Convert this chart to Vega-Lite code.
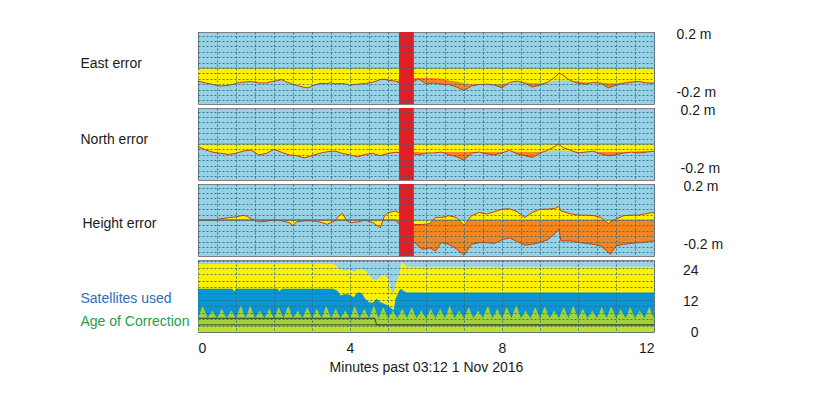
{
  "$schema": "https://vega.github.io/schema/vega-lite/v6.json",
  "background": "white",
  "padding": {"left": 79, "top": 27, "right": 5, "bottom": 5},
  "config": {
    "view": {"stroke": "#7f7f7f", "fill": "#98d2e6"},
    "font": "Liberation Sans",
    "axis": {"ticks": false, "domain": false, "gridColor": "#2b6a80", "gridDash": [2, 2], "gridOpacity": 0.85, "gridWidth": 1,
      "labelFont": "Liberation Sans", "labelFontSize": 14, "labelColor": "#1a1a1a",
      "titleFont": "Liberation Sans", "titleFontSize": 14, "titleFontWeight": "normal", "titleColor": "#1a1a1a"}
  },
  "datasets": {
    "err": [
      {"p":"E","t":0,"a":-0.073,"b":-0.073},{"p":"E","t":0.2,"a":-0.083,"b":-0.083},{"p":"E","t":0.4,"a":-0.092,"b":-0.092},{"p":"E","t":0.5,"a":-0.098,"b":-0.098},
      {"p":"E","t":0.6,"a":-0.1,"b":-0.1},{"p":"E","t":0.8,"a":-0.097,"b":-0.097},{"p":"E","t":1.0,"a":-0.086,"b":-0.086},{"p":"E","t":1.1,"a":-0.08,"b":-0.08},
      {"p":"E","t":1.2,"a":-0.079,"b":-0.079},{"p":"E","t":1.4,"a":-0.075,"b":-0.075},{"p":"E","t":1.6,"a":-0.083,"b":-0.083},{"p":"E","t":1.8,"a":-0.083,"b":-0.083},
      {"p":"E","t":2.0,"a":-0.073,"b":-0.073},{"p":"E","t":2.1,"a":-0.07,"b":-0.07},{"p":"E","t":2.2,"a":-0.064,"b":-0.064},{"p":"E","t":2.3,"a":-0.075,"b":-0.075},
      {"p":"E","t":2.4,"a":-0.083,"b":-0.083},{"p":"E","t":2.6,"a":-0.097,"b":-0.097},{"p":"E","t":2.8,"a":-0.108,"b":-0.108},{"p":"E","t":2.9,"a":-0.11,"b":-0.11},
      {"p":"E","t":3.0,"a":-0.1,"b":-0.1},{"p":"E","t":3.2,"a":-0.086,"b":-0.086},{"p":"E","t":3.4,"a":-0.086,"b":-0.086},{"p":"E","t":3.5,"a":-0.082,"b":-0.082},
      {"p":"E","t":3.6,"a":-0.088,"b":-0.088},{"p":"E","t":3.8,"a":-0.086,"b":-0.086},{"p":"E","t":3.9,"a":-0.09,"b":-0.09},{"p":"E","t":4.0,"a":-0.097,"b":-0.097},
      {"p":"E","t":4.1,"a":-0.092,"b":-0.092},{"p":"E","t":4.2,"a":-0.09,"b":-0.09},{"p":"E","t":4.4,"a":-0.086,"b":-0.086},{"p":"E","t":4.6,"a":-0.079,"b":-0.079},
      {"p":"E","t":4.7,"a":-0.072,"b":-0.072},{"p":"E","t":4.8,"a":-0.064,"b":-0.064},{"p":"E","t":4.9,"a":-0.062,"b":-0.062},{"p":"E","t":5.0,"a":-0.068,"b":-0.068},
      {"p":"E","t":5.2,"a":-0.073,"b":-0.073},{"p":"E","t":5.4,"a":-0.06,"b":-0.09},{"p":"E","t":5.6,"a":-0.055,"b":-0.09},{"p":"E","t":5.8,"a":-0.055,"b":-0.06},
      {"p":"E","t":6.0,"a":-0.055,"b":-0.088},{"p":"E","t":6.2,"a":-0.055,"b":-0.083},{"p":"E","t":6.4,"a":-0.06,"b":-0.09},{"p":"E","t":6.6,"a":-0.07,"b":-0.092},
      {"p":"E","t":6.8,"a":-0.075,"b":-0.105},{"p":"E","t":7.0,"a":-0.085,"b":-0.125},{"p":"E","t":7.2,"a":-0.09,"b":-0.1},{"p":"E","t":7.4,"a":-0.09,"b":-0.092},
      {"p":"E","t":7.6,"a":-0.09,"b":-0.09},{"p":"E","t":7.8,"a":-0.09,"b":-0.095},{"p":"E","t":8.0,"a":-0.09,"b":-0.11},{"p":"E","t":8.2,"a":-0.08,"b":-0.08},
      {"p":"E","t":8.4,"a":-0.075,"b":-0.073},{"p":"E","t":8.6,"a":-0.08,"b":-0.085},{"p":"E","t":8.8,"a":-0.085,"b":-0.105},{"p":"E","t":9.0,"a":-0.085,"b":-0.095},
      {"p":"E","t":9.2,"a":-0.08,"b":-0.08},{"p":"E","t":9.4,"a":-0.07,"b":-0.05},{"p":"E","t":9.5,"a":-0.07,"b":-0.027},{"p":"E","t":9.6,"a":-0.07,"b":-0.04},
      {"p":"E","t":9.8,"a":-0.07,"b":-0.07},{"p":"E","t":10.0,"a":-0.075,"b":-0.085},{"p":"E","t":10.2,"a":-0.08,"b":-0.09},{"p":"E","t":10.4,"a":-0.08,"b":-0.08},
      {"p":"E","t":10.6,"a":-0.08,"b":-0.085},{"p":"E","t":10.8,"a":-0.085,"b":-0.11},{"p":"E","t":11.0,"a":-0.085,"b":-0.095},{"p":"E","t":11.2,"a":-0.08,"b":-0.085},
      {"p":"E","t":11.4,"a":-0.075,"b":-0.079},{"p":"E","t":11.6,"a":-0.075,"b":-0.075},{"p":"E","t":11.8,"a":-0.08,"b":-0.083},{"p":"E","t":12.0,"a":-0.08,"b":-0.085},

      {"p":"N","t":0,"a":-0.014,"b":-0.014},{"p":"N","t":0.2,"a":-0.033,"b":-0.033},{"p":"N","t":0.4,"a":-0.046,"b":-0.046},{"p":"N","t":0.6,"a":-0.052,"b":-0.052},
      {"p":"N","t":0.8,"a":-0.058,"b":-0.058},{"p":"N","t":1.0,"a":-0.052,"b":-0.052},{"p":"N","t":1.2,"a":-0.039,"b":-0.039},{"p":"N","t":1.4,"a":-0.033,"b":-0.033},
      {"p":"N","t":1.6,"a":-0.061,"b":-0.061},{"p":"N","t":1.8,"a":-0.052,"b":-0.052},{"p":"N","t":2.0,"a":-0.03,"b":-0.03},{"p":"N","t":2.2,"a":-0.046,"b":-0.046},
      {"p":"N","t":2.4,"a":-0.061,"b":-0.061},{"p":"N","t":2.6,"a":-0.065,"b":-0.065},{"p":"N","t":2.8,"a":-0.077,"b":-0.077},{"p":"N","t":3.0,"a":-0.065,"b":-0.065},
      {"p":"N","t":3.2,"a":-0.052,"b":-0.052},{"p":"N","t":3.4,"a":-0.043,"b":-0.043},{"p":"N","t":3.6,"a":-0.039,"b":-0.039},{"p":"N","t":3.8,"a":-0.052,"b":-0.052},
      {"p":"N","t":4.0,"a":-0.061,"b":-0.061},{"p":"N","t":4.2,"a":-0.071,"b":-0.071},{"p":"N","t":4.4,"a":-0.058,"b":-0.058},{"p":"N","t":4.6,"a":-0.052,"b":-0.052},
      {"p":"N","t":4.8,"a":-0.065,"b":-0.065},{"p":"N","t":5.0,"a":-0.052,"b":-0.052},{"p":"N","t":5.2,"a":-0.046,"b":-0.046},{"p":"N","t":5.4,"a":-0.045,"b":-0.05},
      {"p":"N","t":5.6,"a":-0.045,"b":-0.05},{"p":"N","t":5.8,"a":-0.045,"b":-0.06},{"p":"N","t":6.0,"a":-0.05,"b":-0.05},{"p":"N","t":6.2,"a":-0.05,"b":-0.05},
      {"p":"N","t":6.4,"a":-0.045,"b":-0.045},{"p":"N","t":6.6,"a":-0.045,"b":-0.06},{"p":"N","t":6.8,"a":-0.045,"b":-0.07},{"p":"N","t":7.0,"a":-0.045,"b":-0.09},
      {"p":"N","t":7.2,"a":-0.045,"b":-0.05},{"p":"N","t":7.4,"a":-0.045,"b":-0.045},{"p":"N","t":7.6,"a":-0.045,"b":-0.055},{"p":"N","t":7.8,"a":-0.045,"b":-0.06},
      {"p":"N","t":8.0,"a":-0.045,"b":-0.05},{"p":"N","t":8.2,"a":-0.04,"b":-0.035},{"p":"N","t":8.4,"a":-0.045,"b":-0.055},{"p":"N","t":8.6,"a":-0.045,"b":-0.065},
      {"p":"N","t":8.8,"a":-0.045,"b":-0.075},{"p":"N","t":9.0,"a":-0.045,"b":-0.05},{"p":"N","t":9.2,"a":-0.04,"b":-0.035},{"p":"N","t":9.4,"a":-0.035,"b":-0.012},
      {"p":"N","t":9.5,"a":-0.035,"b":0.003},{"p":"N","t":9.6,"a":-0.035,"b":-0.02},{"p":"N","t":9.8,"a":-0.04,"b":-0.035},{"p":"N","t":10.0,"a":-0.045,"b":-0.05},
      {"p":"N","t":10.2,"a":-0.045,"b":-0.045},{"p":"N","t":10.4,"a":-0.045,"b":-0.04},{"p":"N","t":10.6,"a":-0.045,"b":-0.055},{"p":"N","t":10.8,"a":-0.045,"b":-0.065},
      {"p":"N","t":11.0,"a":-0.045,"b":-0.06},{"p":"N","t":11.2,"a":-0.045,"b":-0.05},{"p":"N","t":11.4,"a":-0.045,"b":-0.045},{"p":"N","t":11.6,"a":-0.04,"b":-0.05},
      {"p":"N","t":11.8,"a":-0.04,"b":-0.045},{"p":"N","t":12.0,"a":-0.04,"b":-0.04},

      {"p":"H","t":0,"a":0,"b":0},{"p":"H","t":0.2,"a":0,"b":0},{"p":"H","t":0.4,"a":-0.002,"b":0},{"p":"H","t":0.6,"a":0.007,"b":0},
      {"p":"H","t":0.8,"a":0.013,"b":0},{"p":"H","t":1.0,"a":0.017,"b":0},{"p":"H","t":1.1,"a":0.022,"b":0},{"p":"H","t":1.2,"a":0.026,"b":0},
      {"p":"H","t":1.3,"a":0.02,"b":0},{"p":"H","t":1.4,"a":0.007,"b":0},{"p":"H","t":1.6,"a":-0.011,"b":0},{"p":"H","t":1.8,"a":-0.007,"b":0},
      {"p":"H","t":2.0,"a":0,"b":0},{"p":"H","t":2.2,"a":-0.004,"b":0},{"p":"H","t":2.4,"a":-0.015,"b":0},{"p":"H","t":2.5,"a":-0.03,"b":0},
      {"p":"H","t":2.6,"a":-0.01,"b":0},{"p":"H","t":2.8,"a":-0.005,"b":0},{"p":"H","t":3.0,"a":-0.004,"b":0},{"p":"H","t":3.2,"a":-0.011,"b":0},
      {"p":"H","t":3.4,"a":-0.024,"b":0},{"p":"H","t":3.6,"a":-0.005,"b":0},{"p":"H","t":3.7,"a":0.02,"b":0},{"p":"H","t":3.8,"a":0.038,"b":0},
      {"p":"H","t":3.9,"a":0,"b":0},{"p":"H","t":4.0,"a":-0.015,"b":0},{"p":"H","t":4.2,"a":-0.011,"b":0},{"p":"H","t":4.4,"a":0,"b":0},
      {"p":"H","t":4.6,"a":-0.015,"b":0},{"p":"H","t":4.8,"a":-0.043,"b":0},{"p":"H","t":4.9,"a":0.02,"b":0},{"p":"H","t":5.0,"a":0.041,"b":0},
      {"p":"H","t":5.2,"a":0.05,"b":0},{"p":"H","t":5.4,"a":0.03,"b":-0.05},{"p":"H","t":5.6,"a":-0.02,"b":-0.1},{"p":"H","t":5.7,"a":-0.025,"b":-0.126},
      {"p":"H","t":5.9,"a":-0.025,"b":-0.163},{"p":"H","t":6.1,"a":-0.02,"b":-0.155},{"p":"H","t":6.25,"a":0.015,"b":-0.172},{"p":"H","t":6.4,"a":0.014,"b":-0.126},
      {"p":"H","t":6.6,"a":0.024,"b":-0.135},{"p":"H","t":6.8,"a":0.014,"b":-0.16},{"p":"H","t":7.0,"a":-0.03,"b":-0.196},{"p":"H","t":7.2,"a":0.024,"b":-0.135},
      {"p":"H","t":7.4,"a":0.042,"b":-0.126},{"p":"H","t":7.6,"a":0.033,"b":-0.126},{"p":"H","t":7.8,"a":0.046,"b":-0.13},{"p":"H","t":8.0,"a":0.06,"b":-0.11},
      {"p":"H","t":8.2,"a":0.062,"b":-0.1},{"p":"H","t":8.4,"a":0.046,"b":-0.12},{"p":"H","t":8.6,"a":0.014,"b":-0.14},{"p":"H","t":8.8,"a":0.042,"b":-0.135},
      {"p":"H","t":9.0,"a":0.06,"b":-0.125},{"p":"H","t":9.2,"a":0.06,"b":-0.11},{"p":"H","t":9.4,"a":0.065,"b":-0.075},{"p":"H","t":9.5,"a":0.076,"b":-0.051},
      {"p":"H","t":9.55,"a":0.05,"b":-0.116},{"p":"H","t":9.8,"a":0.035,"b":-0.116},{"p":"H","t":10.0,"a":0.027,"b":-0.124},{"p":"H","t":10.2,"a":0.027,"b":-0.13},
      {"p":"H","t":10.4,"a":0.025,"b":-0.135},{"p":"H","t":10.6,"a":0.014,"b":-0.144},{"p":"H","t":10.8,"a":-0.02,"b":-0.18},{"p":"H","t":10.85,"a":-0.01,"b":-0.191},
      {"p":"H","t":11.0,"a":0.005,"b":-0.144},{"p":"H","t":11.2,"a":0.024,"b":-0.135},{"p":"H","t":11.4,"a":0.027,"b":-0.13},{"p":"H","t":11.6,"a":0.027,"b":-0.126},
      {"p":"H","t":11.8,"a":0.036,"b":-0.122},{"p":"H","t":12.0,"a":0.042,"b":-0.116}
    ],
    "band": [{"t1": 5.29, "t2": 5.68}],
    "sv": [
      {"t":0,"vis":26.4,"used":16.8},{"t":0.9,"vis":26.4,"used":16.8},{"t":0.95,"vis":26.4,"used":15.8},{"t":1.0,"vis":26.4,"used":16.8},
      {"t":2.1,"vis":26.4,"used":16.8},{"t":2.15,"vis":26.4,"used":15.8},{"t":2.2,"vis":26.4,"used":16.8},{"t":3.55,"vis":26.4,"used":16.8},
      {"t":3.65,"vis":25.8,"used":16.2},{"t":3.7,"vis":24.5,"used":15.5},{"t":3.75,"vis":24.5,"used":14.2},{"t":3.8,"vis":24.2,"used":14.5},
      {"t":3.9,"vis":23.8,"used":14.8},{"t":4.0,"vis":24.5,"used":14.5},{"t":4.1,"vis":23.3,"used":13.5},{"t":4.2,"vis":24.2,"used":15.5},
      {"t":4.3,"vis":24.5,"used":15.2},{"t":4.4,"vis":23.8,"used":12.9},{"t":4.5,"vis":22.0,"used":11.6},{"t":4.6,"vis":20.7,"used":11.4},
      {"t":4.7,"vis":20.0,"used":12.9},{"t":4.8,"vis":21.4,"used":11.6},{"t":4.9,"vis":22.6,"used":11.0},{"t":5.0,"vis":20.7,"used":10.3},
      {"t":5.1,"vis":15.5,"used":9.0},{"t":5.15,"vis":14.8,"used":8.5},{"t":5.2,"vis":18.8,"used":12.9},{"t":5.3,"vis":22.6,"used":16.2},
      {"t":5.35,"vis":27.0,"used":16.8},{"t":5.4,"vis":26.8,"used":16.0},{"t":5.5,"vis":25.4,"used":15.4},{"t":12,"vis":25.4,"used":15.4}
    ],
    "saw": [
      {"t":0,"s":5.3},{"t":0.125,"s":10.3},{"t":0.25,"s":5.3},{"t":0.375,"s":8.4},{"t":0.5,"s":5.3},{"t":0.625,"s":9.0},{"t":0.75,"s":5.3},{"t":0.875,"s":8.4},
      {"t":1.0,"s":5.3},{"t":1.125,"s":10.3},{"t":1.25,"s":5.3},{"t":1.375,"s":10.3},{"t":1.5,"s":5.3},{"t":1.625,"s":8.4},{"t":1.75,"s":5.3},{"t":1.875,"s":9.0},
      {"t":2.0,"s":5.3},{"t":2.125,"s":9.7},{"t":2.25,"s":5.3},{"t":2.375,"s":10.3},{"t":2.5,"s":5.3},{"t":2.625,"s":8.4},{"t":2.75,"s":5.3},{"t":2.875,"s":9.7},
      {"t":3.0,"s":5.3},{"t":3.125,"s":9.0},{"t":3.25,"s":5.3},{"t":3.375,"s":10.3},{"t":3.5,"s":5.3},{"t":3.625,"s":9.0},{"t":3.75,"s":5.3},{"t":3.875,"s":8.4},
      {"t":4.0,"s":5.3},{"t":4.125,"s":10.3},{"t":4.25,"s":5.3},{"t":4.375,"s":9.0},{"t":4.5,"s":5.3},{"t":4.625,"s":10.3},{"t":4.75,"s":5.3},{"t":4.875,"s":9.7},
      {"t":5.0,"s":5.3},{"t":5.125,"s":8.4},{"t":5.25,"s":5.3},{"t":5.375,"s":9.0},{"t":5.5,"s":5.3},{"t":5.625,"s":9.7},{"t":5.75,"s":5.3},{"t":5.875,"s":8.4},
      {"t":6.0,"s":5.3},{"t":6.125,"s":9.0},{"t":6.25,"s":5.3},{"t":6.375,"s":9.0},{"t":6.5,"s":5.3},{"t":6.625,"s":10.3},{"t":6.75,"s":5.3},{"t":6.875,"s":8.4},
      {"t":7.0,"s":5.3},{"t":7.125,"s":9.7},{"t":7.25,"s":5.3},{"t":7.375,"s":8.4},{"t":7.5,"s":5.3},{"t":7.625,"s":10.3},{"t":7.75,"s":5.3},{"t":7.875,"s":9.0},
      {"t":8.0,"s":5.3},{"t":8.125,"s":9.7},{"t":8.25,"s":5.3},{"t":8.375,"s":10.6},{"t":8.5,"s":5.3},{"t":8.625,"s":8.4},{"t":8.75,"s":5.3},{"t":8.875,"s":9.7},
      {"t":9.0,"s":5.3},{"t":9.125,"s":10.0},{"t":9.25,"s":5.3},{"t":9.375,"s":8.4},{"t":9.5,"s":5.3},{"t":9.625,"s":9.7},{"t":9.75,"s":5.3},{"t":9.875,"s":10.3},
      {"t":10.0,"s":5.3},{"t":10.125,"s":9.0},{"t":10.25,"s":5.3},{"t":10.375,"s":8.4},{"t":10.5,"s":5.3},{"t":10.625,"s":9.7},{"t":10.75,"s":5.3},{"t":10.875,"s":10.0},
      {"t":11.0,"s":5.3},{"t":11.125,"s":8.8},{"t":11.25,"s":5.3},{"t":11.375,"s":9.7},{"t":11.5,"s":5.3},{"t":11.625,"s":8.4},{"t":11.75,"s":5.3},{"t":11.875,"s":9.7},
      {"t":12.0,"s":5.3}
    ],
    "low": [{"t":0,"v":2.8},{"t":12,"v":2.8}],
    "age": [
      {"k":"A","t":0,"age":5.3},{"k":"A","t":4.65,"age":5.3},{"k":"A","t":4.7,"age":2.8},{"k":"A","t":12,"age":2.8},
      {"k":"B","t":0,"age":2.8},{"k":"B","t":12,"age":2.8}
    ]
  },
  "vconcat": [
    {
      "width": 456, "height": 72,
      "layer": [
        {"data": {"name": "err"}, "transform": [{"filter": "datum.p === 'E'"}],
         "mark": {"type": "area", "color": "#f5861f"},
         "encoding": {
           "x": {"field": "t", "type": "quantitative", "scale": {"domain": [0, 12], "nice": false},
                 "axis": {"values": [0,0.5,1,1.5,2,2.5,3,3.5,4,4.5,5,5.5,6,6.5,7,7.5,8,8.5,9,9.5,10,10.5,11,11.5,12], "grid": true, "labels": false, "title": null, "zindex": 1}},
           "y": {"field": "b", "type": "quantitative", "scale": {"domain": [-0.2, 0.2], "nice": false},
                 "axis": {"orient": "left", "values": [-0.18,-0.15,-0.12,-0.09,-0.06,-0.03,0,0.03,0.06,0.09,0.12,0.15,0.18], "grid": true, "labels": false,
                          "title": "East error", "titleAngle": 0, "titleAlign": "left", "titleBaseline": "middle", "titleX": -118, "titleY": 31, "zindex": 1}},
           "y2": {"datum": 0}}},
        {"data": {"name": "err"}, "transform": [{"filter": "datum.p === 'E'"}],
         "mark": {"type": "area", "color": "#fff000"},
         "encoding": {
           "x": {"field": "t", "type": "quantitative", "axis": null},
           "y": {"field": "a", "type": "quantitative",
                 "axis": {"orient": "right", "values": [0.185, -0.135], "labelExpr": "datum.value > 0 ? '0.2 m' : '-0.2 m'", "grid": false, "title": null, "labelPadding": 22}},
           "y2": {"datum": 0}}},
        {"data": {"values": [{}]}, "mark": {"type": "rule", "color": "#7d8a90", "strokeWidth": 1},
         "encoding": {"y": {"datum": 0, "axis": null}}},
        {"data": {"name": "err"}, "transform": [{"filter": "datum.p === 'E'"}],
         "mark": {"type": "line", "color": "#c0401c", "strokeWidth": 1},
         "encoding": {"x": {"field": "t", "type": "quantitative", "axis": null}, "y": {"field": "b", "type": "quantitative", "axis": null}}},
        {"data": {"name": "band"}, "mark": {"type": "rect", "color": "#e31e25"},
         "encoding": {"x": {"field": "t1", "type": "quantitative", "axis": null}, "x2": {"field": "t2"}}}
      ],
      "resolve": {"axis": {"x": "independent", "y": "independent"}}
    },
    {
      "width": 456, "height": 72,
      "layer": [
        {"data": {"name": "err"}, "transform": [{"filter": "datum.p === 'N'"}],
         "mark": {"type": "area", "color": "#f5861f"},
         "encoding": {
           "x": {"field": "t", "type": "quantitative", "scale": {"domain": [0, 12], "nice": false},
                 "axis": {"values": [0,0.5,1,1.5,2,2.5,3,3.5,4,4.5,5,5.5,6,6.5,7,7.5,8,8.5,9,9.5,10,10.5,11,11.5,12], "grid": true, "labels": false, "title": null, "zindex": 1}},
           "y": {"field": "b", "type": "quantitative", "scale": {"domain": [-0.2, 0.2], "nice": false},
                 "axis": {"orient": "left", "values": [-0.18,-0.15,-0.12,-0.09,-0.06,-0.03,0,0.03,0.06,0.09,0.12,0.15,0.18], "grid": true, "labels": false,
                          "title": "North error", "titleAngle": 0, "titleAlign": "left", "titleBaseline": "middle", "titleX": -118, "titleY": 31, "zindex": 1}},
           "y2": {"datum": 0}}},
        {"data": {"name": "err"}, "transform": [{"filter": "datum.p === 'N'"}],
         "mark": {"type": "area", "color": "#fff000"},
         "encoding": {
           "x": {"field": "t", "type": "quantitative", "axis": null},
           "y": {"field": "a", "type": "quantitative",
                 "axis": {"orient": "right", "values": [0.185, -0.135], "labelExpr": "datum.value > 0 ? '0.2 m' : '-0.2 m'", "grid": false, "title": null, "labelPadding": 26}},
           "y2": {"datum": 0}}},
        {"data": {"values": [{}]}, "mark": {"type": "rule", "color": "#7d8a90", "strokeWidth": 1},
         "encoding": {"y": {"datum": 0, "axis": null}}},
        {"data": {"name": "err"}, "transform": [{"filter": "datum.p === 'N'"}],
         "mark": {"type": "line", "color": "#c0401c", "strokeWidth": 1},
         "encoding": {"x": {"field": "t", "type": "quantitative", "axis": null}, "y": {"field": "b", "type": "quantitative", "axis": null}}},
        {"data": {"name": "band"}, "mark": {"type": "rect", "color": "#e31e25"},
         "encoding": {"x": {"field": "t1", "type": "quantitative", "axis": null}, "x2": {"field": "t2"}}}
      ],
      "resolve": {"axis": {"x": "independent", "y": "independent"}}
    },
    {
      "width": 456, "height": 72,
      "layer": [
        {"data": {"name": "err"}, "transform": [{"filter": "datum.p === 'H'"}],
         "mark": {"type": "area", "color": "#f5861f"},
         "encoding": {
           "x": {"field": "t", "type": "quantitative", "scale": {"domain": [0, 12], "nice": false},
                 "axis": {"values": [0,0.5,1,1.5,2,2.5,3,3.5,4,4.5,5,5.5,6,6.5,7,7.5,8,8.5,9,9.5,10,10.5,11,11.5,12], "grid": true, "labels": false, "title": null, "zindex": 1}},
           "y": {"field": "b", "type": "quantitative", "scale": {"domain": [-0.2, 0.2], "nice": false},
                 "axis": {"orient": "left", "values": [-0.18,-0.15,-0.12,-0.09,-0.06,-0.03,0,0.03,0.06,0.09,0.12,0.15,0.18], "grid": true, "labels": false,
                          "title": "Height error", "titleAngle": 0, "titleAlign": "left", "titleBaseline": "middle", "titleX": -116, "titleY": 39, "zindex": 1}},
           "y2": {"datum": 0}}},
        {"data": {"name": "err"}, "transform": [{"filter": "datum.p === 'H'"}],
         "mark": {"type": "area", "color": "#fff000"},
         "encoding": {
           "x": {"field": "t", "type": "quantitative", "axis": null},
           "y": {"field": "a", "type": "quantitative",
                 "axis": {"orient": "right", "values": [0.185, -0.135], "labelExpr": "datum.value > 0 ? '0.2 m' : '-0.2 m'", "grid": false, "title": null, "labelPadding": 29}},
           "y2": {"datum": 0}}},
        {"data": {"values": [{}]}, "mark": {"type": "rule", "color": "#7d8a90", "strokeWidth": 1},
         "encoding": {"y": {"datum": 0, "axis": null}}},
        {"data": {"name": "err"}, "transform": [{"filter": "datum.p === 'H'"}],
         "mark": {"type": "line", "color": "#c0401c", "strokeWidth": 1},
         "encoding": {"x": {"field": "t", "type": "quantitative", "axis": null}, "y": {"field": "a", "type": "quantitative", "axis": null}}},
        {"data": {"name": "err"}, "transform": [{"filter": "datum.p === 'H'"}],
         "mark": {"type": "line", "color": "#c0401c", "strokeWidth": 1},
         "encoding": {"x": {"field": "t", "type": "quantitative", "axis": null}, "y": {"field": "b", "type": "quantitative", "axis": null}}},
        {"data": {"name": "band"}, "mark": {"type": "rect", "color": "#e31e25"},
         "encoding": {"x": {"field": "t1", "type": "quantitative", "axis": null}, "x2": {"field": "t2"}}}
      ],
      "resolve": {"axis": {"x": "independent", "y": "independent"}}
    },
    {
      "width": 456, "height": 72,
      "layer": [
        {"data": {"name": "sv"}, "mark": {"type": "area", "color": "#fff000"},
         "encoding": {
           "x": {"field": "t", "type": "quantitative", "scale": {"domain": [0, 12], "nice": false},
                 "axis": {"values": [0,0.5,1,1.5,2,2.5,3,3.5,4,4.5,5,5.5,6,6.5,7,7.5,8,8.5,9,9.5,10,10.5,11,11.5,12], "grid": true, "format": "d",
                          "labelExpr": "datum.value % 4 === 0 ? datum.label : ''", "labelPadding": 9,
                          "title": "Minutes past 03:12 1 Nov 2016", "titlePadding": 5, "zindex": 1}},
           "y": {"field": "vis", "type": "quantitative", "scale": {"domain": [0, 28], "nice": false},
                 "axis": {"orient": "left", "values": [0,2.5,5,7.5,10,12.5,15,17.5,20,22.5,25,27.5], "grid": true, "labels": false,
                          "title": "Satellites used", "titleColor": "#2f6db5", "titleAngle": 0, "titleAlign": "left", "titleBaseline": "middle", "titleX": -118, "titleY": 38, "zindex": 1}},
           "y2": {"datum": 0}}},
        {"data": {"name": "sv"}, "mark": {"type": "area", "color": "#0896d6"},
         "encoding": {
           "x": {"field": "t", "type": "quantitative",
                 "axis": {"orient": "top", "labels": false, "grid": false, "title": "Age of Correction", "titleColor": "#23a04c", "titleAngle": 0, "titleAlign": "left", "titleBaseline": "middle", "titleX": -118, "titleY": 61}},
           "y": {"field": "used", "type": "quantitative", "axis": null},
           "y2": {"datum": 0}}},
        {"data": {"name": "saw"}, "mark": {"type": "area", "color": "#a3d13b"},
         "encoding": {
           "x": {"field": "t", "type": "quantitative", "axis": null},
           "y": {"field": "s", "type": "quantitative", "axis": {"orient": "right", "values": [0, 12, 24], "grid": false, "title": null, "labelAlign": "right", "labelPadding": 44}},
           "y2": {"datum": 0}}},
        {"data": {"name": "low"}, "mark": {"type": "area", "color": "#c4dc2e"},
         "encoding": {
           "x": {"field": "t", "type": "quantitative", "axis": null},
           "y": {"field": "v", "type": "quantitative", "axis": null},
           "y2": {"datum": 0}}},
        {"data": {"name": "age"}, "mark": {"type": "line", "color": "#3e5f2c", "strokeWidth": 1.2},
         "encoding": {"x": {"field": "t", "type": "quantitative", "axis": null}, "y": {"field": "age", "type": "quantitative", "axis": null}, "detail": {"field": "k"}}}
      ],
      "resolve": {"axis": {"x": "independent", "y": "independent"}}
    }
  ],
  "spacing": 4,
  "bounds": "flush"
}
